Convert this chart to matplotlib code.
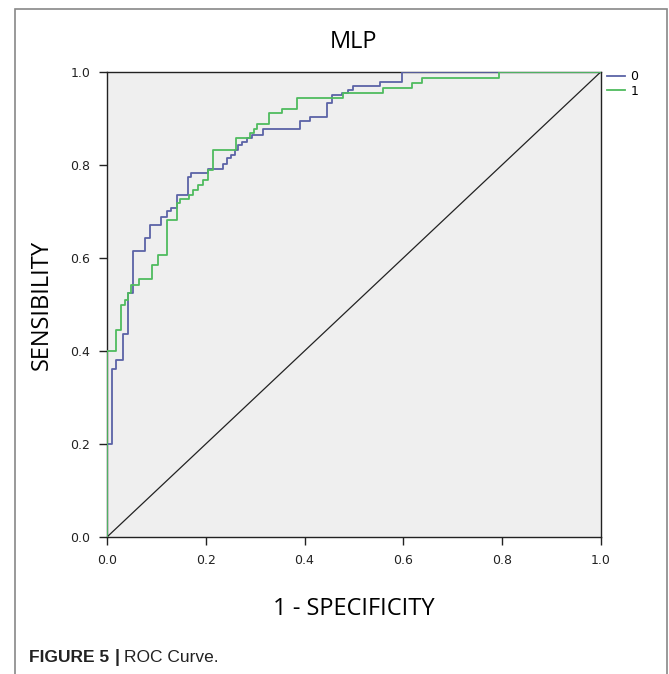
import numpy as np
import matplotlib
matplotlib.use("Agg")
import matplotlib.pyplot as plt
from matplotlib.patches import Rectangle

# ROC points (fpr, tpr at each rise)
fpr_0 = [0.0, 0.0, 0.011, 0.019, 0.032, 0.043, 0.053, 0.076, 0.087, 0.109, 0.121,
         0.130, 0.141, 0.163, 0.171, 0.205, 0.234, 0.242, 0.252, 0.259, 0.266,
         0.273, 0.283, 0.293, 0.315, 0.391, 0.412, 0.446, 0.455, 0.475, 0.489,
         0.499, 0.553, 0.597, 1.0]
tpr_0 = [0.0, 0.200, 0.362, 0.380, 0.437, 0.524, 0.615, 0.642, 0.671, 0.689, 0.700,
         0.707, 0.735, 0.774, 0.783, 0.791, 0.803, 0.814, 0.821, 0.832, 0.843,
         0.850, 0.857, 0.865, 0.877, 0.895, 0.904, 0.933, 0.950, 0.955, 0.961,
         0.970, 0.978, 1.0, 1.0]

fpr_1 = [0.0, 0.0, 0.018, 0.028, 0.036, 0.043, 0.048, 0.065, 0.092, 0.104, 0.121,
         0.141, 0.148, 0.165, 0.175, 0.185, 0.195, 0.205, 0.215, 0.261, 0.289,
         0.298, 0.303, 0.329, 0.355, 0.384, 0.478, 0.559, 0.617, 0.637, 0.794, 1.0]
tpr_1 = [0.0, 0.400, 0.444, 0.499, 0.510, 0.524, 0.542, 0.554, 0.585, 0.606, 0.682,
         0.718, 0.726, 0.735, 0.746, 0.757, 0.768, 0.789, 0.832, 0.857, 0.868,
         0.877, 0.887, 0.911, 0.921, 0.943, 0.954, 0.965, 0.976, 0.987, 1.0, 1.0]

series_labels = ["0", "1"]
ticks = [0.0, 0.2, 0.4, 0.6, 0.8, 1.0]

fig = plt.figure(figsize=(6.69, 6.74), dpi=100)
ax = fig.add_axes([0.160, 0.2033, 0.738, 0.690])
ax.set_facecolor("#efefef")

ax.plot([0, 1], [0, 1], color="#222222", lw=0.9, zorder=2)
ax.plot(fpr_0, tpr_0, drawstyle="steps-post", color="#5b63a6", lw=1.3,
        label=series_labels[0], zorder=3)
ax.plot(fpr_1, tpr_1, drawstyle="steps-post", color="#4fbb5e", lw=1.3,
        label=series_labels[1], zorder=3)

ax.set_xlim(0, 1)
ax.set_ylim(0, 1)
ax.set_xticks(ticks)
ax.set_yticks(ticks)
ax.set_xticklabels([f"{t:.1f}" for t in ticks])
ax.set_yticklabels([f"{t:.1f}" for t in ticks])
ax.tick_params(direction="out", length=6, width=1, labelsize=9, colors="#222222",
               pad=6)
for s in ax.spines.values():
    s.set_color("#222222")
    s.set_linewidth(1.0)

ax.set_title("MLP", fontsize=17, family="Open Sans", pad=17)
ax.set_xlabel("1 - SPECIFICITY", fontsize=17, family="Open Sans", labelpad=22)
ax.set_ylabel("SENSIBILITY", fontsize=17, family="Open Sans", labelpad=12)

ax.legend(loc="upper left", bbox_to_anchor=(1.002, 1.015), frameon=False,
          handlelength=1.5, handletextpad=0.4, fontsize=9, borderaxespad=0,
          labelspacing=0.15)

# outer frame and caption
fig.patches.append(Rectangle((15 / 669, -0.01), 652 / 669, 1 - 9 / 674 + 0.01,
                             transform=fig.transFigure, fill=False,
                             edgecolor="#888888", lw=1.2))
cap_y = 1 - 658 / 674
t1 = fig.text(29 / 669, cap_y, "FIGURE 5", fontsize=12.5, fontweight="bold",
              family="Liberation Sans", va="center", color="#222222")
fig.canvas.draw()
bb = t1.get_window_extent()
fig.text((bb.x1 + 5) / 669, cap_y, "|", fontsize=13, fontweight="bold",
         family="Liberation Sans", va="center", color="#222222")
fig.text((bb.x1 + 15) / 669, cap_y, "ROC Curve.", fontsize=12.5,
         family="Liberation Sans", va="center", color="#222222")

fig.savefig("out.png", dpi=100)
